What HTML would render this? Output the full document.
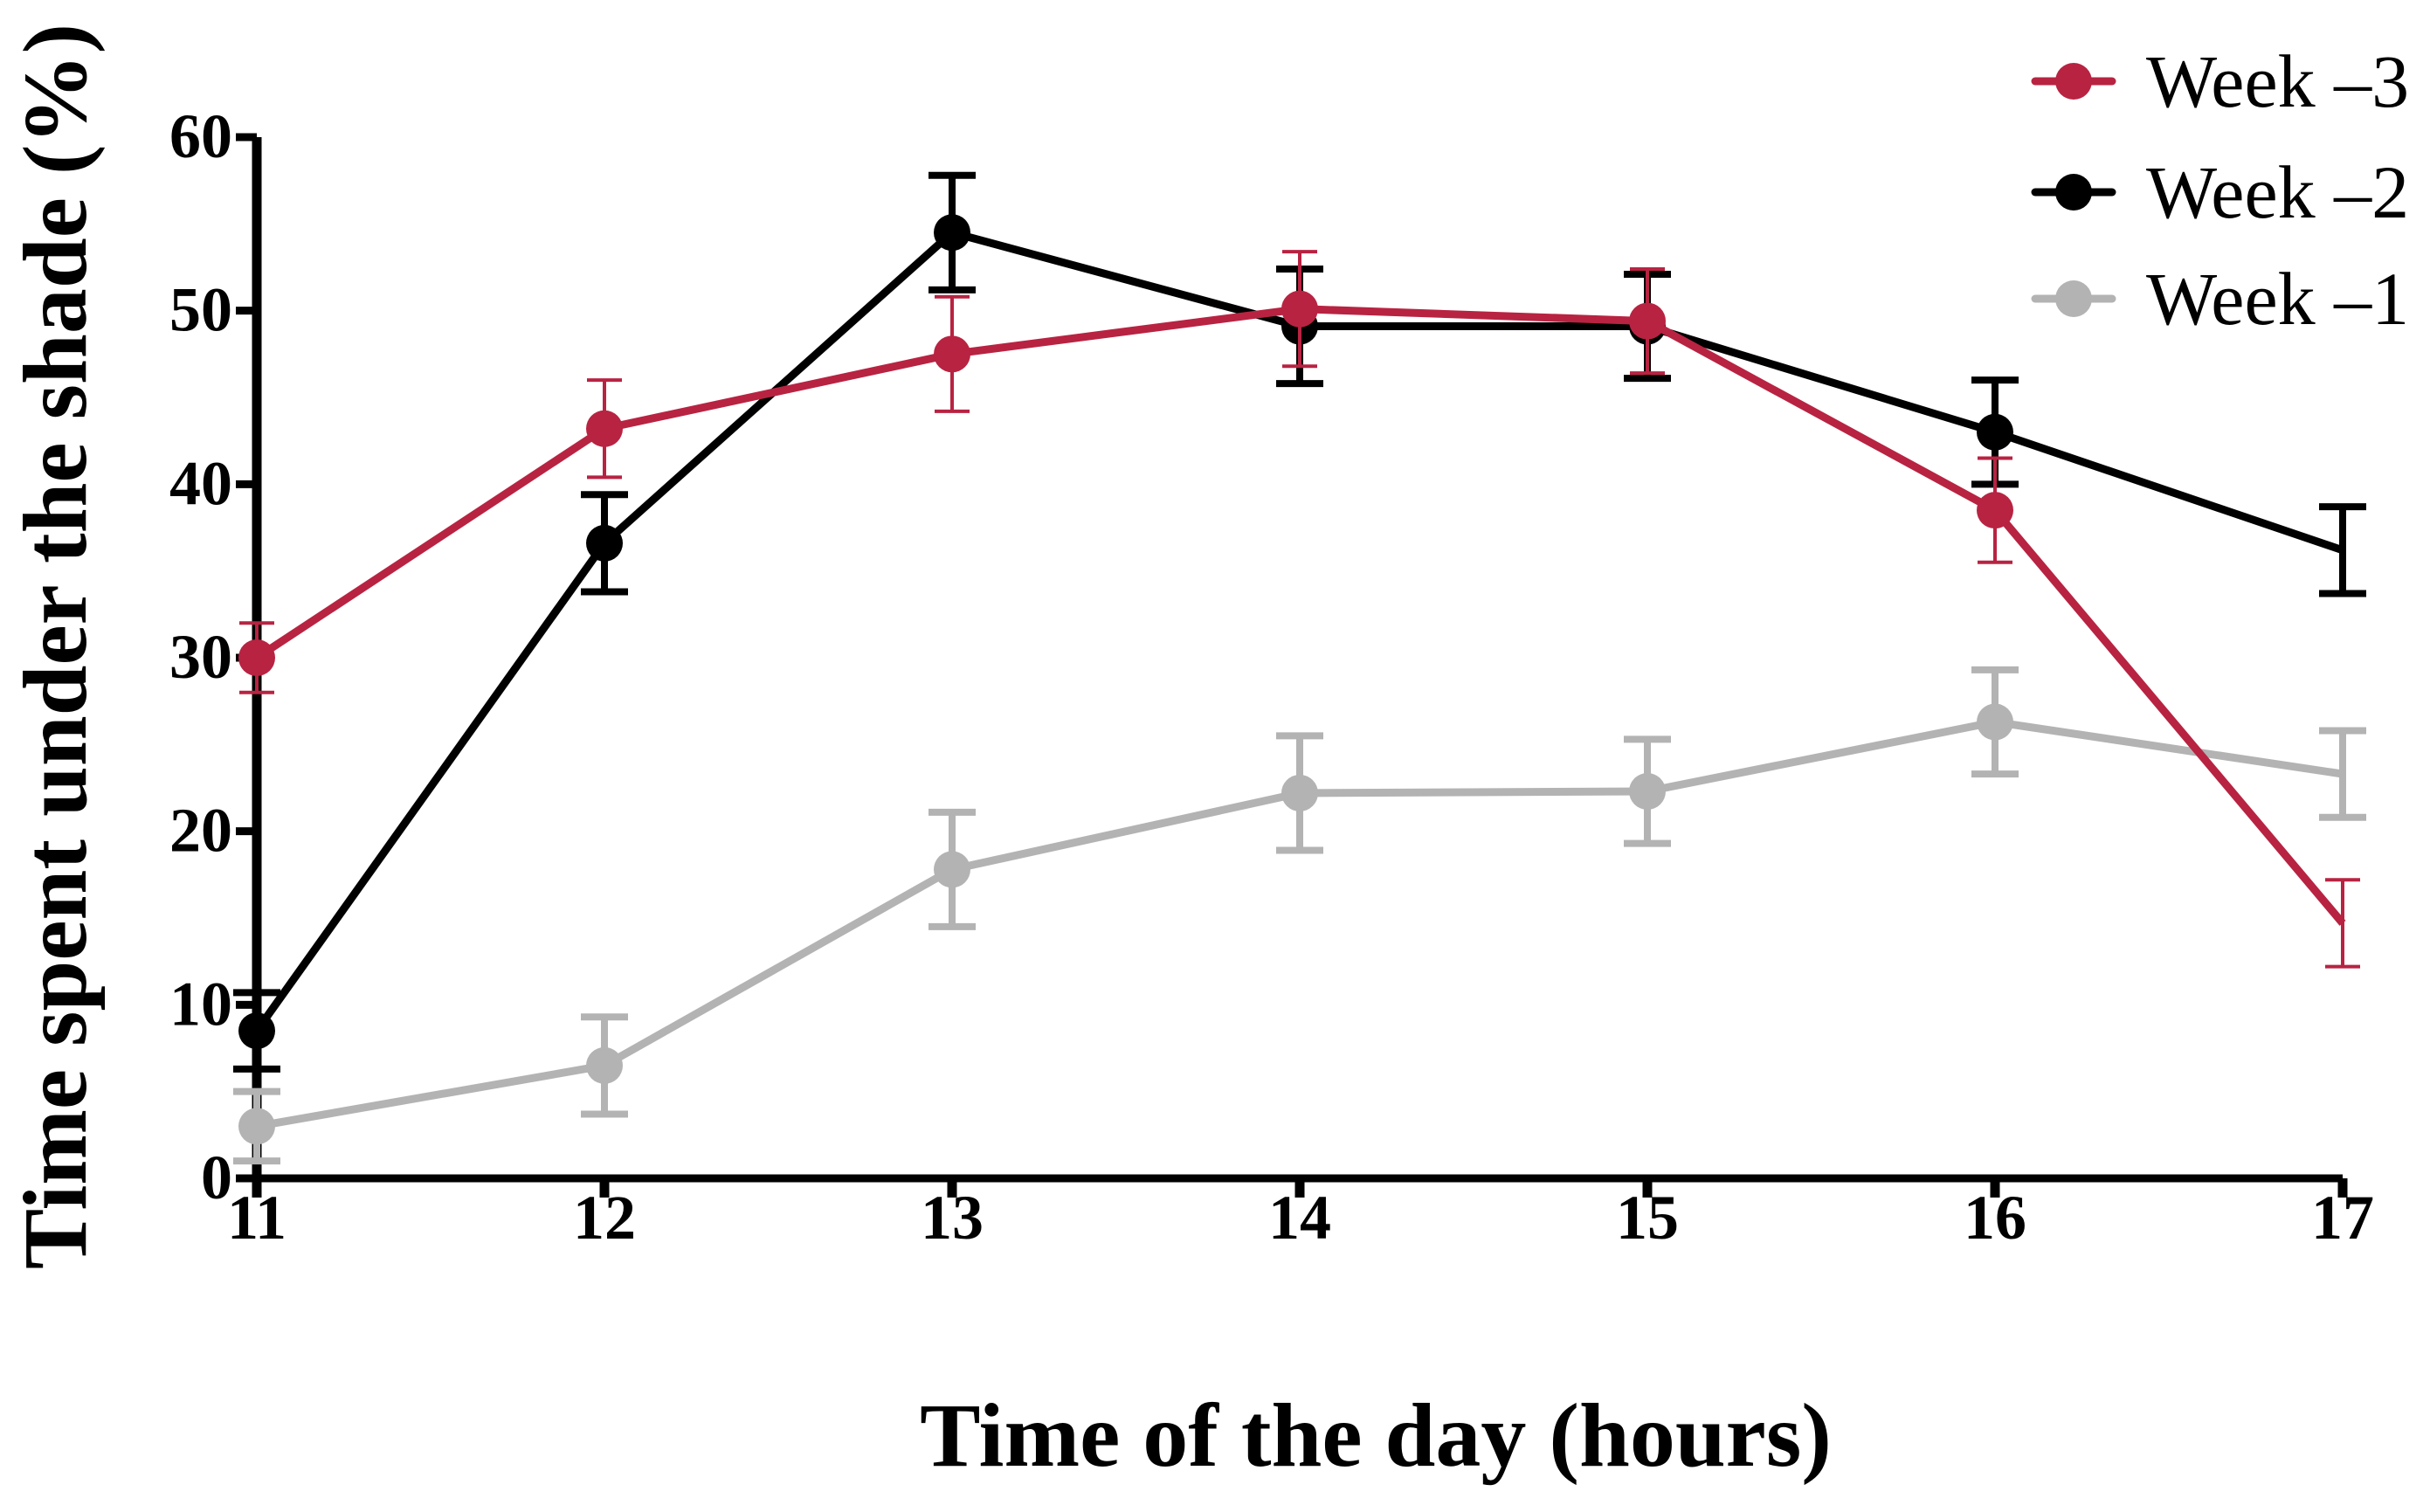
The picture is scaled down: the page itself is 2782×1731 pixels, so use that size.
<!DOCTYPE html>
<html><head><meta charset="utf-8"><style>
html,body{margin:0;padding:0;background:#fff;}
svg{display:block;font-family:"Liberation Serif",serif;}
</style></head><body>
<svg id="chart" width="2782" height="1731" viewBox="0 0 2782 1731"></svg>
<script>
const hours = [11,12,13,14,15,16,17];
const yTicks = [0,10,20,30,40,50,60];
const week3 = [30,43.2,47.5,50.1,49.4,38.5,14.7];
const week3Err = [2,2.8,3.3,3.3,3,3,2.5];
const week2 = [8.5,36.6,54.5,49.1,49.1,43,36.2];
const week2Err = [2.2,2.8,3.3,3.3,3,3,2.5];
const week1 = [3,6.5,17.8,22.2,22.3,26.3,23.3];
const week1Err = [2,2.8,3.3,3.3,3,3,2.5];
const seriesNames = ["Week \u20133","Week \u20132","Week \u20131"];

const NS="http://www.w3.org/2000/svg";
const svg=document.getElementById('chart');
const X0=294,X1=2682,Y0=1349,Y1=157;
const xs=v=>X0+(v-11)/(17-11)*(X1-X0);
const ys=v=>Y0-v/60*(Y0-Y1);
function mk(tag,attrs,parent){const e=document.createElementNS(NS,tag);for(const k in attrs)e.setAttribute(k,attrs[k]);(parent||svg).appendChild(e);return e;}

const ax=mk('g',{});


mk('line',{x1:X0,y1:Y1,x2:X0,y2:Y0+20,stroke:'#000','stroke-width':11},ax);
mk('line',{x1:X0,y1:Y0,x2:X1,y2:Y0,stroke:'#000','stroke-width':9},ax);
yTicks.forEach(t=>{
  mk('line',{x1:X0-24,y1:ys(t),x2:X0,y2:ys(t),stroke:'#000','stroke-width':9},ax);
  const tx=mk('text',{x:X0-28,y:ys(t)+23,'text-anchor':'end','font-size':72,'font-weight':'bold'},ax);
  tx.textContent=t;
  
  
});
hours.forEach(h=>{
  mk('line',{x1:xs(h),y1:Y0,x2:xs(h),y2:Y0+22,stroke:'#000','stroke-width':11},ax);
  const tx=mk('text',{x:xs(h),y:1418,'text-anchor':'middle','font-size':72,'font-weight':'bold'},ax);
  tx.textContent=h;
  
  
});
const yt=mk('text',{x:0,y:0,transform:'translate(98,740) rotate(-90)','text-anchor':'middle','font-size':104,'font-weight':'bold'});
yt.textContent='Time spent under the shade (%)';


const xt=mk('text',{x:1575,y:1678,'text-anchor':'middle','font-size':104,'font-weight':'bold'});
xt.textContent='Time of the day (hours)';



function drawSeries(vals,errs,color,cap,ew,name){
  const g=mk('g',{});
  
  
  vals.forEach((v,i)=>{
    const x=xs(hours[i]);
    mk('line',{x1:x,y1:ys(v+errs[i]),x2:x,y2:ys(v-errs[i]),stroke:color,'stroke-width':ew},g);
    mk('line',{x1:x-cap,y1:ys(v+errs[i]),x2:x+cap,y2:ys(v+errs[i]),stroke:color,'stroke-width':ew},g);
    mk('line',{x1:x-cap,y1:ys(v-errs[i]),x2:x+cap,y2:ys(v-errs[i]),stroke:color,'stroke-width':ew},g);
  });
  mk('polyline',{points:vals.map((v,i)=>xs(hours[i])+','+ys(v)).join(' '),fill:'none',stroke:color,'stroke-width':9,'stroke-linejoin':'round'},g);
  vals.forEach((v,i)=>{
    if(i===vals.length-1)return;
    const c=mk('circle',{cx:xs(hours[i]),cy:ys(v),r:21,fill:color},g);
    
    
  });
}
drawSeries(week1,week1Err,'#b3b3b3',27,8,'series-week-1');
drawSeries(week2,week2Err,'#000000',27,8,'series-week-2');
drawSeries(week3,week3Err,'#b82342',20,4,'series-week-3');

const cols=['#b82342','#000000','#b3b3b3'];
const ly=[93,220,342];
seriesNames.forEach((n,i)=>{
  const g=mk('g',{});
  
  
  mk('line',{x1:2330,y1:ly[i],x2:2418,y2:ly[i],stroke:cols[i],'stroke-width':9,'stroke-linecap':'round'},g);
  mk('circle',{cx:2374,cy:ly[i],r:21,fill:cols[i]},g);
  const t=mk('text',{x:2457,y:ly[i]+29,'font-size':86},g);
  t.textContent=n;
});
</script>
</body></html>
